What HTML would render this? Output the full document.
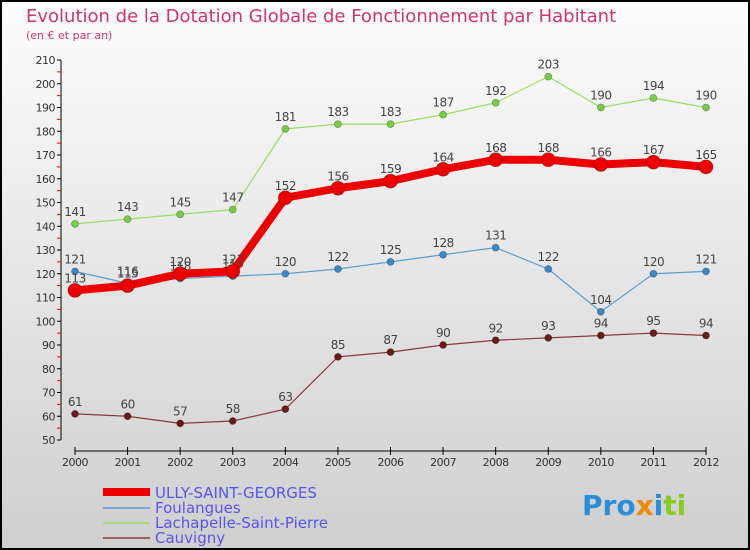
<!DOCTYPE html>
<html><head><meta charset="utf-8"><style>
body{margin:0;}
#c{width:750px;height:550px;position:relative;overflow:hidden;font-family:"DejaVu Sans","Liberation Sans",sans-serif;}
</style></head><body>
<div id="c">
<svg width="750" height="550" id="svg">
<defs><linearGradient id="bg" x1="0" y1="0" x2="0" y2="1"><stop offset="0" stop-color="#fdfdfd"/><stop offset="1" stop-color="#cfcfcf"/></linearGradient></defs>
<rect x="1" y="1" width="748" height="548" fill="url(#bg)" stroke="#000" stroke-width="2"/>
<text x="26" y="22" font-size="18" fill="#d2336b">Evolution de la Dotation Globale de Fonctionnement par Habitant</text>
<text x="26" y="39" font-size="11" fill="#d2336b">(en € et par an)</text>
<g id="axes"></g><g id="series"></g>
<g>
<line x1="103" y1="492" x2="150" y2="492" stroke="#e00" stroke-width="8"/>
<text x="155" y="498" font-size="15" fill="#5555ee">ULLY-SAINT-GEORGES</text>
<line x1="103" y1="508" x2="150" y2="508" stroke="#5a9fd4" stroke-width="1.5"/>
<text x="155" y="513" font-size="15" fill="#5555ee">Foulangues</text>
<line x1="103" y1="523" x2="150" y2="523" stroke="#99dd66" stroke-width="1.5"/>
<text x="155" y="528" font-size="15" fill="#5555ee">Lachapelle-Saint-Pierre</text>
<line x1="103" y1="538" x2="150" y2="538" stroke="#8b3a3a" stroke-width="1.5"/>
<text x="155" y="543" font-size="15" fill="#5555ee">Cauvigny</text>
</g>
<text x="582" y="515" font-size="28" font-weight="bold"><tspan fill="#2a8fd8">Pro</tspan><tspan fill="#f08a00">x</tspan><tspan fill="#2a8fd8">i</tspan><tspan fill="#88cc22">ti</tspan></text>
</svg>
</div>
<script>
const years=[2000,2001,2002,2003,2004,2005,2006,2007,2008,2009,2010,2011,2012];
const ully=[113,115,120,121,152,156,159,164,168,168,166,167,165];
const foulangues=[121,116,118,119,120,122,125,128,131,122,104,120,121];
const lachapelle=[141,143,145,147,181,183,183,187,192,203,190,194,190];
const cauvigny=[61,60,57,58,63,85,87,90,92,93,94,95,94];
const yTicks=[50,60,70,80,90,100,110,120,130,140,150,160,170,180,190,200,210];
const NS="http://www.w3.org/2000/svg";
const xS=i=>75+i*(706-75)/(years.length-1);
const yS=v=>440-(v-50)*(380/160);
function mk(t,a,p){const e=document.createElementNS(NS,t);for(const k in a)e.setAttribute(k,a[k]);p.appendChild(e);return e;}
const ax=document.getElementById('axes');
let e=mk('line',{x1:61,y1:yS(210),x2:61,y2:yS(50),stroke:'#000','stroke-width':1},ax);


yTicks.forEach((v,k)=>{
 mk('line',{x1:57,y1:yS(v),x2:61,y2:yS(v),stroke:'#000'},ax);
 if(k<yTicks.length-1) mk('line',{x1:57,y1:yS(v+5),x2:61,y2:yS(v+5),stroke:'#e00'},ax);
 const t=mk('text',{x:55,y:yS(v)+4,'font-size':11,fill:'#333','text-anchor':'end','letter-spacing':'-0.5'},ax);t.textContent=v;
 
 
});
e=mk('line',{x1:xS(0),y1:451,x2:xS(12),y2:451,stroke:'#000'},ax);


years.forEach((y,i)=>{
 mk('line',{x1:xS(i),y1:447,x2:xS(i),y2:455,stroke:'#000'},ax);
 const t=mk('text',{x:xS(i),y:466,'font-size':11,fill:'#333','text-anchor':'middle','letter-spacing':'-0.5'},ax);t.textContent=y;
 
 
});
const sg=document.getElementById('series');
function draw(name,vals,col,w,r,dot){
 const g=mk('g',{},sg);
 
 
 const l=mk('polyline',{points:vals.map((v,i)=>xS(i)+','+yS(v)).join(' '),fill:'none',stroke:col,'stroke-width':w,'stroke-linejoin':'round'},g);
 
 
 vals.forEach((v,i)=>{
  const c=mk('circle',{cx:xS(i),cy:yS(v),r:r,fill:dot,stroke:'rgba(0,0,0,0.3)','stroke-width':0.8},g);
  
  
  const t=mk('text',{x:xS(i),y:yS(v)-8,'font-size':12,fill:'#444','text-anchor':'middle','letter-spacing':'-0.5'},g);t.textContent=v;
  
  
 });
}
draw('cauvigny',cauvigny,'#8b3a3a',1.2,3.5,'#6b1a1a');
draw('lachapelle',lachapelle,'#99dd66',1.2,3.5,'#77cc44');
draw('foulangues',foulangues,'#5a9fd4',1.2,3.5,'#3a88cc');
draw('ully',ully,'#ee0000',8,7,'#ee0000');
</script>
</body></html>
